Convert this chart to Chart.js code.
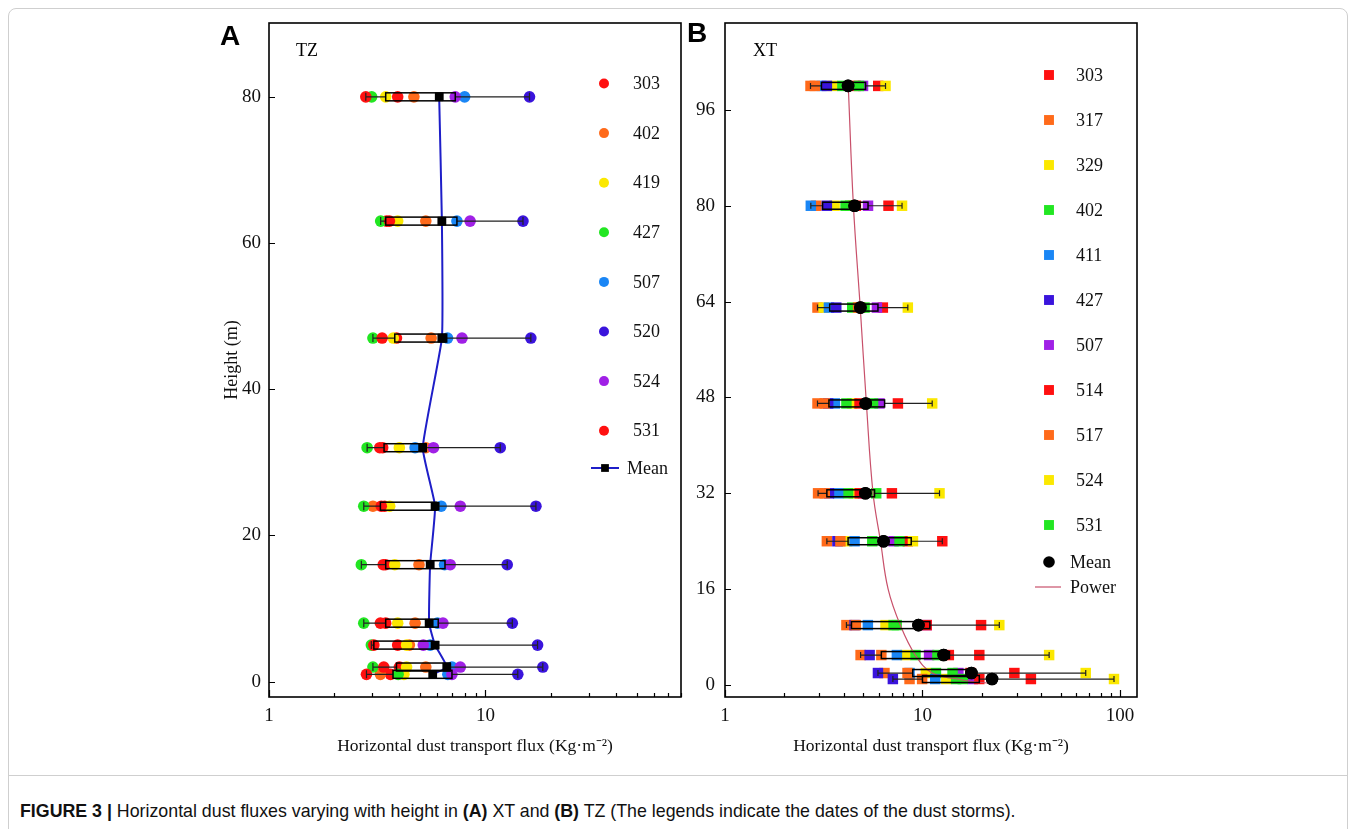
<!DOCTYPE html>
<html><head><meta charset="utf-8">
<script src="https://cdn.jsdelivr.net/npm/chart.js@4.4.0/dist/chart.umd.min.js"></script>
<style>
html,body{margin:0;padding:0;background:#fff;width:1356px;height:829px;overflow:hidden;}
#frame{position:absolute;left:8px;top:8px;width:1340px;height:860px;border:1px solid #cfcfcf;border-radius:8px;box-sizing:border-box;}
#sep{position:absolute;left:8px;top:775px;width:1340px;height:1px;background:#cfcfcf;}
canvas{position:absolute;left:0;top:0;}
.panel{position:absolute;font-family:"Liberation Sans",Arial,sans-serif;font-weight:bold;font-size:28px;line-height:28px;}
.site{position:absolute;font-family:"Liberation Serif","Times New Roman",serif;font-size:18px;line-height:20px;}
#cap{position:absolute;left:20px;top:802px;font-family:"Liberation Sans",Arial,sans-serif;font-size:17.8px;line-height:18px;white-space:nowrap;color:#111;}
</style></head>
<body>
<div id="frame"></div>
<div id="sep"></div>
<canvas id="cA" width="1356" height="775"></canvas>
<canvas id="cB" width="1356" height="775"></canvas>
<div class="panel" style="left:220px;top:22px;">A</div>
<div class="panel" style="left:687px;top:19px;">B</div>
<div class="site" style="left:296px;top:40px;">TZ</div>
<div class="site" style="left:753px;top:40px;">XT</div>
<div id="cap"><b>FIGURE 3 |</b> Horizontal dust fluxes varying with height in <b>(A)</b> XT and <b>(B)</b> TZ (The legends indicate the dates of the dust storms).</div>
<script>
// ---------- Panel A (TZ) ----------
const heightsA = [80, 63, 47, 32, 24, 16, 8, 5, 2, 1];
const datesA = ['303', '402', '419', '427', '507', '520', '524', '531'];
const colorsA = ['#ff1010', '#ff6a1a', '#fbe800', '#22e622', '#1a86f5', '#3a14dc', '#a020e6', '#ff1010'];
const a303 = [3.93, 3.49, 3.88, 3.35, 3.42, 3.45, 3.46, 3.93, 4.00, 3.64];
const a402 = [4.67, 5.30, 5.61, 5.30, 3.02, 4.93, 4.73, 4.45, 5.30, 3.27];
const a419 = [3.46, 3.93, 3.75, 4.00, 3.61, 3.81, 3.93, 4.32, 4.32, 4.20];
const a427 = [2.98, 3.28, 3.02, 2.84, 2.74, 2.67, 2.74, 2.97, 3.02, 3.95];
const a507 = [8.01, 7.38, 6.68, 4.73, 6.24, 6.47, 6.00, 5.55, 7.00, 6.70];
const a520 = [15.97, 14.9, 16.2, 11.7, 17.1, 12.6, 13.3, 17.4, 18.4, 14.1];
const a524 = [7.25, 8.49, 7.79, 5.75, 7.65, 6.87, 6.36, 5.16, 7.65, 7.00];
const a531 = [2.80, 3.60, 3.33, 3.25, 3.30, 3.37, 3.27, 3.05, 3.39, 2.82];
const meanA = [6.11, 6.29, 6.29, 5.13, 5.85, 5.55, 5.49, 5.85, 6.63, 5.71];
const boxLoA = [3.46, 3.46, 3.81, 3.40, 3.27, 3.46, 3.46, 3.05, 3.88, 3.74];
const boxHiA = [7.25, 7.38, 6.62, 5.30, 5.95, 6.50, 6.05, 5.70, 6.87, 7.00];
const xTicksA = [1, 2, 3, 4, 5, 6, 7, 8, 9, 10, 20, 30, 40, 50, 60, 70, 80];
const xMajorA = [1, 10];
const xLabelsA = ['1', '10'];
const yTicksA = [0, 20, 40, 60, 80];
const yLabelsA = ['0', '20', '40', '60', '80'];

// ---------- Panel B (XT) ----------
const heightsB = [100, 80, 63, 47, 32, 24, 10, 5, 2, 1];
const datesB = ['303', '317', '329', '402', '411', '427', '507', '514', '517', '524', '531'];
const colorsB = ['#ff1010', '#ff6a1a', '#fbe800', '#22e622', '#1a86f5', '#3a14dc', '#a020e6', '#ff1010', '#ff6a1a', '#fbe800', '#22e622'];
const b303 = [5.97, 6.73, 6.30, 7.51, 7.00, 12.6, 19.8, 19.4, 29.2, 35.4];
const b317 = [2.71, 2.90, 2.94, 2.94, 2.96, 3.28, 4.12, 4.86, 6.42, 8.60];
const b329 = [3.50, 3.59, 3.16, 4.40, 4.49, 4.15, 6.50, 8.20, 10.4, 13.2];
const b402 = [3.93, 4.08, 4.41, 4.12, 4.20, 5.57, 7.14, 9.22, 11.7, 14.8];
const b411 = [3.08, 2.72, 3.36, 3.60, 3.74, 4.53, 5.29, 7.42, 8.60, 11.6];
const b427 = [3.28, 3.28, 3.66, 3.33, 3.36, 3.71, 4.53, 5.40, 5.95, 7.08];
const b507 = [5.00, 5.30, 5.88, 6.06, 5.00, 7.14, 10.5, 10.8, 15.2, 18.0];
const b514 = [4.59, 4.60, 4.85, 4.80, 4.81, 8.43, 10.5, 13.6, 17.5, 19.4];
const b517 = [2.85, 4.45, 4.72, 3.20, 3.20, 3.84, 4.60, 6.19, 8.40, 9.96];
const b524 = [6.50, 7.88, 8.43, 11.2, 12.2, 8.95, 24.5, 43.8, 67.1, 93.3];
const b531 = [4.77, 4.30, 5.09, 5.62, 5.83, 7.65, 7.40, 11.9, 14.2, 16.0];
const meanB = [4.20, 4.53, 4.85, 5.16, 5.14, 6.35, 9.54, 12.8, 17.7, 22.5];
const boxLoB = [3.08, 3.12, 3.39, 3.36, 3.28, 4.20, 4.37, 6.19, 8.93, 10.0];
const boxHiB = [5.15, 5.30, 5.95, 6.43, 5.72, 8.77, 10.9, 13.7, 17.3, 19.4];
const powerFluxB = [4.21, 4.47, 4.84, 5.20, 5.62, 6.13, 6.70, 7.72, 9.20, 11.2, 15.0, 18.9, 22.9];
const powerHeightB = [100, 80, 63, 47, 32, 24, 16, 10, 5, 2, 1, 0.5, 0.25];
const xTicksB = [1, 2, 3, 4, 5, 6, 7, 8, 9, 10, 20, 30, 40, 50, 60, 70, 80, 90, 100];
const xMajorB = [1, 10, 100];
const xLabelsB = ['1', '10', '100'];
const yTicksB = [0, 16, 32, 48, 64, 80, 96];
const yLabelsB = ['0', '16', '32', '48', '64', '80', '96'];

const xTitle = 'Horizontal dust transport flux (Kg\u00b7m\u207b\u00b2)';
const SERIF = '"Liberation Serif","Times New Roman",serif';

function drawMarker(ctx, style, x, y, r, color) {
  ctx.fillStyle = color;
  ctx.beginPath();
  if (style === 'circle') { ctx.arc(x, y, r, 0, Math.PI * 2); }
  else { const s = Math.SQRT1_2 * r; ctx.rect(x - s, y - s, 2 * s, 2 * s); }
  ctx.fill();
}

function makeDecor(cfg) {
  return {
    id: 'decor' + cfg.id,
    afterDatasetsDraw(chart) {
      const {ctx, scales: {x, y}} = chart;
      ctx.save();
      ctx.beginPath();
      const a = chart.chartArea;
      ctx.rect(a.left, a.top, a.right - a.left, a.bottom - a.top);
      ctx.clip();
      cfg.heights.forEach((h, i) => {
        const vals = cfg.series.map(s => s[i]);
        const lo = Math.min(...vals), hi = Math.max(...vals);
        const py = y.getPixelForValue(h);
        const p0 = x.getPixelForValue(lo), p1 = x.getPixelForValue(hi);
        const b0 = x.getPixelForValue(cfg.boxLo[i]), b1 = x.getPixelForValue(cfg.boxHi[i]);
        ctx.strokeStyle = '#222'; ctx.lineWidth = 1.2;
        ctx.beginPath();
        ctx.moveTo(p0, py); ctx.lineTo(b0, py);
        ctx.moveTo(b1, py); ctx.lineTo(p1, py);
        ctx.moveTo(p0, py - cfg.cap); ctx.lineTo(p0, py + cfg.cap);
        ctx.moveTo(p1, py - cfg.cap); ctx.lineTo(p1, py + cfg.cap);
        ctx.stroke();
        ctx.strokeStyle = '#000'; ctx.lineWidth = 1.5;
        ctx.strokeRect(b0, py - cfg.boxH / 2, b1 - b0, cfg.boxH);
      });
      ctx.restore();
      ctx.save();
      cfg.heights.forEach((h, i) => {
        drawMarker(ctx, cfg.meanStyle, x.getPixelForValue(cfg.mean[i]), y.getPixelForValue(h), cfg.meanR, '#000');
      });
      ctx.restore();
    },
    afterDraw(chart) {
      const {ctx, chartArea: a, scales: {x, y}} = chart;
      ctx.save();
      ctx.strokeStyle = '#000';
      ctx.lineWidth = 1.2;
      ctx.beginPath();
      cfg.xTicks.forEach(v => {
        const px = Math.round(x.getPixelForValue(v)) + 0.5;
        const len = cfg.xMajor.includes(v) ? 7 : 4;
        ctx.moveTo(px, a.bottom); ctx.lineTo(px, a.bottom - len);
      });
      cfg.yTicks.forEach(v => {
        const py = Math.round(y.getPixelForValue(v)) + 0.5;
        ctx.moveTo(a.left, py); ctx.lineTo(a.left + 6, py);
      });
      ctx.stroke();
      ctx.lineWidth = 1.6;
      ctx.strokeRect(a.left, a.top, a.right - a.left, a.bottom - a.top);
      const L = cfg.legend;
      ctx.font = '18px ' + SERIF;
      ctx.textBaseline = 'middle';
      ctx.textAlign = 'left';
      cfg.dates.forEach((d, i) => {
        const ly = L.y0 + i * L.step;
        drawMarker(ctx, cfg.marker, L.mx, ly, cfg.legendR, cfg.colors[i]);
        ctx.fillStyle = '#111';
        ctx.fillText(d, L.tx, ly + 1);
      });
      L.extra.forEach(e => {
        if (e.line) {
          ctx.strokeStyle = e.line; ctx.lineWidth = e.lw;
          ctx.beginPath(); ctx.moveTo(e.l0, e.y); ctx.lineTo(e.l1, e.y); ctx.stroke();
        }
        if (e.marker) drawMarker(ctx, e.marker, e.mx, e.y, e.r, '#000');
        ctx.fillStyle = '#111';
        ctx.fillText(e.text, e.tx, e.y + 1);
      });
      ctx.restore();
    }
  };
}

function buildChart(canvasId, cfg) {
  const datasets = cfg.series.map((vals, i) => ({
    type: 'scatter',
    label: cfg.dates[i],
    data: cfg.heights.map((h, j) => ({x: vals[j], y: h})),
    showLine: false,
    pointStyle: cfg.marker,
    pointRadius: cfg.r,
    pointHoverRadius: cfg.r,
    pointBackgroundColor: cfg.colors[i],
    pointBorderColor: cfg.colors[i],
    pointBorderWidth: 0,
    order: 100 - i
  }));
  cfg.extraDatasets.forEach(d => datasets.push(d));
  return new Chart(document.getElementById(canvasId), {
    type: 'scatter',
    data: {datasets},
    plugins: [makeDecor(cfg)],
    options: {
      responsive: false,
      animation: false,
      devicePixelRatio: 1,
      events: [],
      layout: {padding: cfg.padding},
      plugins: {legend: {display: false}, tooltip: {enabled: false}},
      scales: {
        x: {
          type: 'logarithmic', position: 'bottom',
          min: cfg.xMin, max: cfg.xMax,
          grid: {display: false, drawTicks: false},
          border: {display: false},
          afterBuildTicks: s => { s.ticks = cfg.xTicks.map(v => ({value: v})); },
          afterFit: s => { s.height = 78; },
          ticks: {
            autoSkip: false, maxRotation: 0, padding: 8, color: '#111',
            font: {family: SERIF, size: 19},
            callback: v => { const k = cfg.xMajor.indexOf(v); return k >= 0 ? cfg.xLabels[k] : ''; }
          },
          title: {display: true, text: xTitle, color: '#111', font: {family: SERIF, size: 17.5}, padding: {top: 0, bottom: 18}}
        },
        y: {
          type: 'linear', position: 'left',
          min: cfg.yMin, max: cfg.yMax,
          grid: {display: false, drawTicks: false},
          border: {display: false},
          afterBuildTicks: s => { s.ticks = cfg.yTicks.map(v => ({value: v})); },
          afterFit: s => { s.width = cfg.yWidth; },
          ticks: {
            autoSkip: false, padding: cfg.yPad, color: '#111',
            font: {family: SERIF, size: 19},
            callback: (v) => { const k = cfg.yTicks.indexOf(v); return k >= 0 ? cfg.yLabels[k] : ''; }
          },
          title: {display: cfg.yTitle !== '', text: cfg.yTitle, color: '#111', font: {family: SERIF, size: 18}, padding: 0}
        }
      }
    }
  });
}

buildChart('cA', {
  id: 'A',
  heights: heightsA, dates: datesA, colors: colorsA,
  series: [a303, a402, a419, a427, a507, a520, a524, a531],
  mean: meanA, boxLo: boxLoA, boxHi: boxHiA,
  marker: 'circle', r: 5.8, legendR: 5, meanStyle: 'rect', meanR: 6,
  boxH: 8, cap: 4,
  xTicks: xTicksA, xMajor: xMajorA, xLabels: xLabelsA,
  yTicks: yTicksA, yLabels: yLabelsA,
  xMin: 1, xMax: 80, yMin: -2.1, yMax: 90.1,
  padding: {left: 221, right: 675, top: 23, bottom: 0},
  yWidth: 48, yPad: 8, yTitle: 'Height (m)',
  legend: {mx: 604, tx: 633, y0: 83.5, step: 49.6, extra: [
    {text: 'Mean', y: 468, tx: 627, line: '#1e1ec8', lw: 2, l0: 591, l1: 619, marker: 'rect', mx: 605, r: 5.5}
  ]},
  extraDatasets: [{
    type: 'scatter', label: 'Mean',
    data: heightsA.map((h, j) => ({x: meanA[j], y: h})),
    showLine: true, borderColor: '#1e1ec8', borderWidth: 2, tension: 0.12,
    pointStyle: 'rect', pointRadius: 6, pointBackgroundColor: '#000', pointBorderColor: '#000', pointBorderWidth: 0,
    order: 0
  }]
});

buildChart('cB', {
  id: 'B',
  heights: heightsB, dates: datesB, colors: colorsB,
  series: [b303, b317, b329, b402, b411, b427, b507, b514, b517, b524, b531],
  mean: meanB, boxLo: boxLoB, boxHi: boxHiB,
  marker: 'rect', r: 7.4, legendR: 7, meanStyle: 'circle', meanR: 6.3,
  boxH: 7, cap: 3,
  xTicks: xTicksB, xMajor: xMajorB, xLabels: xLabelsB,
  yTicks: yTicksB, yLabels: yLabelsB,
  xMin: 1, xMax: 122, yMin: -2.0, yMax: 110.5,
  padding: {left: 691, right: 219, top: 23, bottom: 0},
  yWidth: 34, yPad: 10, yTitle: '',
  legend: {mx: 1049, tx: 1076, y0: 75, step: 45, extra: [
    {text: 'Mean', y: 562, tx: 1070, marker: 'circle', mx: 1049, r: 5.8},
    {text: 'Power', y: 587, tx: 1070, line: '#c8506a', lw: 1.2, l0: 1035, l1: 1061}
  ]},
  extraDatasets: [{
    type: 'scatter', label: 'Power',
    data: powerHeightB.map((h, j) => ({x: powerFluxB[j], y: h})),
    showLine: true, borderColor: '#c8506a', borderWidth: 1.2, tension: 0.4,
    pointRadius: 0, pointHoverRadius: 0, order: 1
  }, {
    type: 'scatter', label: 'Mean',
    data: heightsB.map((h, j) => ({x: meanB[j], y: h})),
    showLine: false, pointStyle: 'circle', pointRadius: 6.3,
    pointBackgroundColor: '#000', pointBorderColor: '#000', pointBorderWidth: 0, order: 0
  }]
});
</script>
</body></html>
